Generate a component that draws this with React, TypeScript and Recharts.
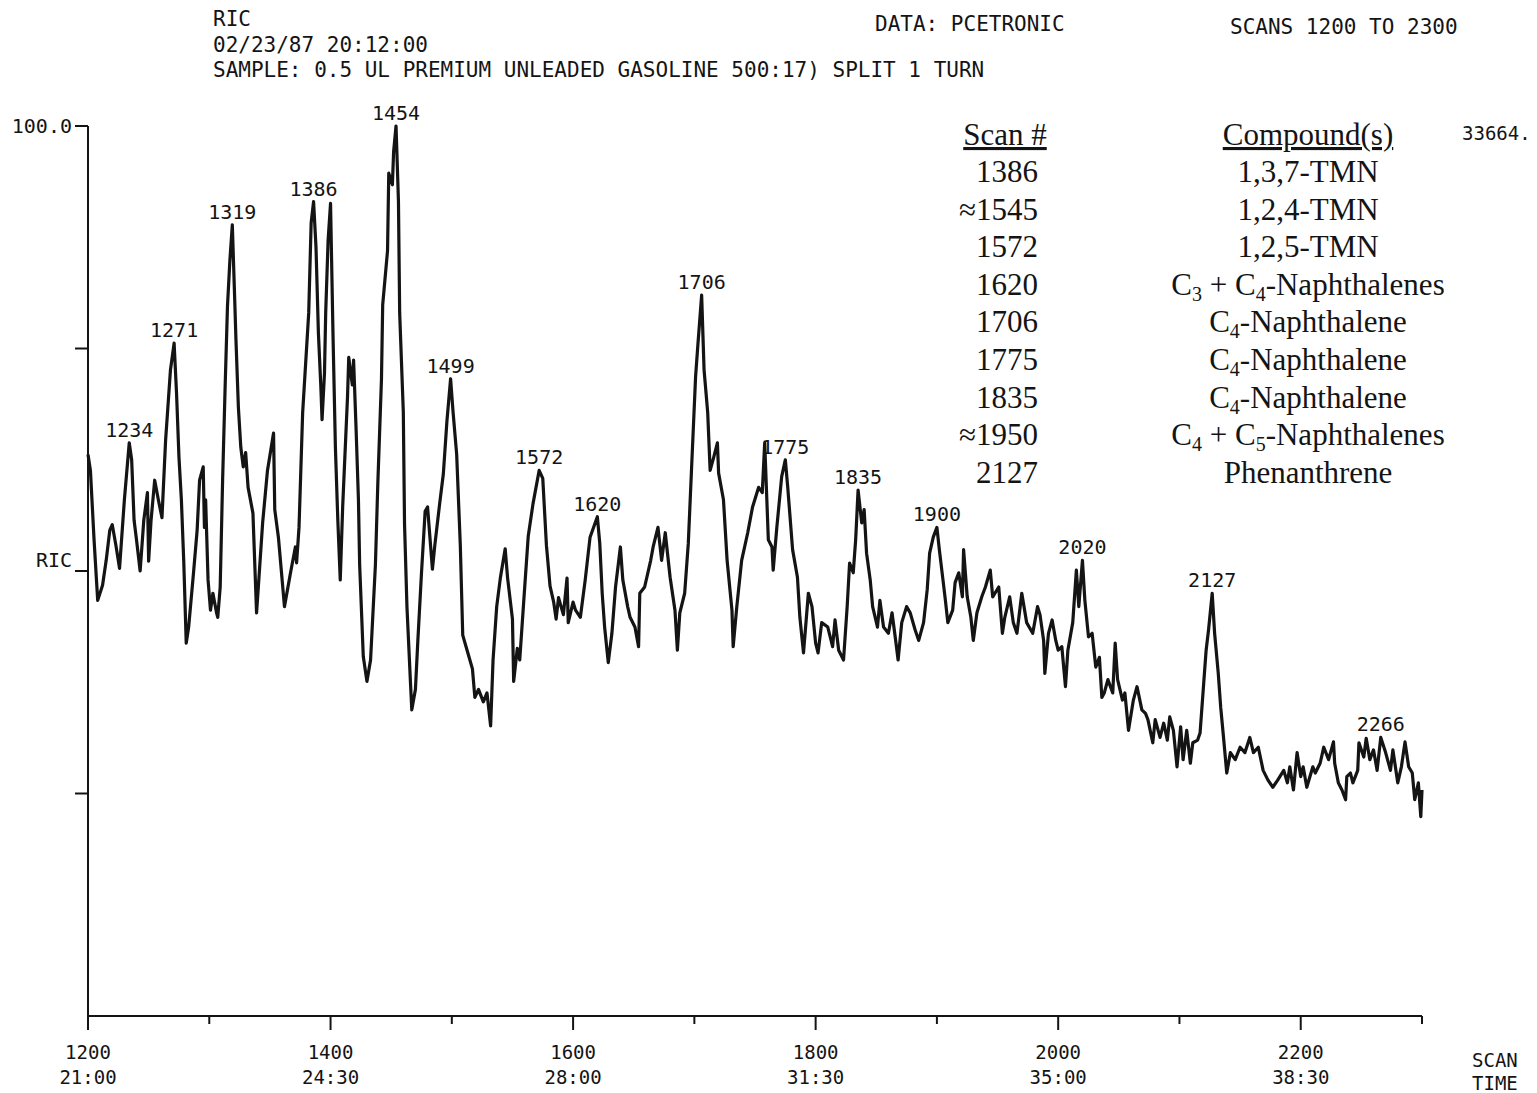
import React from "react";
import { LineChart, Line, XAxis, YAxis, LabelList } from "recharts";

// Reconstructed ion current trace, scans 1200-2300 (relative intensity, %)
const scans = [
  1200, 1202, 1205, 1208, 1212, 1215, 1218, 1220, 1223, 1226, 1230, 1234, 1236, 1238, 1240, 1243, 1246, 1249, 1250, 1252,
  1255, 1258, 1261, 1264, 1268, 1271, 1273, 1275, 1277, 1279, 1281, 1283, 1287, 1290, 1292, 1295, 1296, 1297, 1299, 1301,
  1303, 1306, 1307, 1309, 1311, 1313, 1315, 1317, 1319, 1321, 1322, 1324, 1326, 1328, 1330, 1332, 1336, 1339, 1341, 1344,
  1348, 1353, 1354, 1357, 1362, 1367, 1371, 1372, 1374, 1377, 1382, 1384, 1386, 1388, 1390, 1392, 1393, 1395, 1396, 1398,
  1400, 1402, 1404, 1406, 1408, 1410, 1414, 1415, 1418, 1419, 1421, 1423, 1424, 1427, 1430, 1433, 1437, 1439, 1442, 1443,
  1447, 1448, 1451, 1452, 1454, 1456, 1457, 1460, 1461, 1463, 1466, 1467, 1470, 1472, 1475, 1478, 1480, 1484, 1486, 1490,
  1493, 1496, 1499, 1501, 1504, 1507, 1509, 1513, 1517, 1519, 1522, 1526, 1529, 1532, 1534, 1537, 1540, 1544, 1546, 1550,
  1551, 1554, 1556, 1559, 1563, 1567, 1572, 1575, 1578, 1581, 1584, 1586, 1588, 1592, 1595, 1596, 1600, 1602, 1606, 1610,
  1614, 1620, 1622, 1624, 1626, 1629, 1632, 1635, 1639, 1641, 1645, 1647, 1651, 1654, 1655, 1659, 1664, 1666, 1670, 1673,
  1676, 1680, 1684, 1686, 1688, 1692, 1695, 1698, 1701, 1703, 1706, 1708, 1711, 1713, 1716, 1719, 1720, 1724, 1727, 1731,
  1732, 1735, 1739, 1744, 1748, 1753, 1756, 1758, 1761, 1764, 1765, 1768, 1772, 1775, 1777, 1781, 1785, 1787, 1790, 1794,
  1797, 1800, 1802, 1805, 1810, 1814, 1816, 1819, 1823, 1826, 1828, 1831, 1833, 1835, 1838, 1840, 1842, 1845, 1847, 1851,
  1853, 1856, 1860, 1863, 1866, 1868, 1871, 1875, 1878, 1882, 1885, 1889, 1892, 1894, 1897, 1900, 1902, 1905, 1907, 1909,
  1913, 1915, 1918, 1921, 1922, 1925, 1928, 1930, 1933, 1937, 1940, 1944, 1946, 1951, 1954, 1956, 1960, 1963, 1966, 1970,
  1974, 1979, 1983, 1985, 1988, 1989, 1992, 1995, 1998, 2000, 2003, 2006, 2008, 2012, 2015, 2017, 2020, 2022, 2025, 2028,
  2031, 2034, 2036, 2038, 2041, 2045, 2047, 2049, 2053, 2055, 2058, 2062, 2065, 2069, 2072, 2074, 2078, 2080, 2084, 2087,
  2090, 2092, 2095, 2098, 2101, 2103, 2106, 2109, 2111, 2115, 2117, 2120, 2122, 2124, 2127, 2129, 2132, 2134, 2136, 2139,
  2142, 2146, 2150, 2154, 2158, 2161, 2165, 2169, 2173, 2177, 2181, 2186, 2189, 2191, 2194, 2197, 2200, 2202, 2205, 2210,
  2212, 2216, 2219, 2223, 2227, 2228, 2231, 2234, 2237, 2238, 2241, 2243, 2247, 2248, 2252, 2254, 2257, 2260, 2263, 2266,
  2270, 2274, 2276, 2280, 2283, 2286, 2289, 2292, 2294, 2297, 2299, 2300,
];

const ric = [
  63.1, 61.3, 53.5, 46.7, 48.4, 51.2, 54.6, 55.2, 52.9, 50.3, 58.0, 64.4, 62.5, 55.7, 53.5, 50.0, 55.7, 58.8, 51.1, 55.7,
  60.2, 58.0, 56.0, 64.7, 72.6, 75.6, 70.0, 62.8, 58.0, 50.9, 41.9, 43.7, 49.8, 54.6, 60.2, 61.7, 54.9, 58.0, 49.0, 45.6,
  47.5, 45.3, 44.8, 48.2, 60.2, 70.3, 79.7, 84.9, 88.9, 80.4, 76.0, 68.4, 63.9, 61.7, 63.3, 59.4, 56.5, 45.3, 49.3, 55.4,
  61.3, 65.5, 56.9, 53.8, 46.0, 49.8, 52.7, 50.9, 54.9, 67.8, 79.0, 89.1, 91.5, 86.4, 76.7, 70.7, 67.0, 72.2, 79.0, 87.2,
  91.3, 76.7, 63.9, 55.7, 49.0, 57.2, 69.6, 74.0, 70.9, 73.7, 66.2, 58.0, 50.7, 40.4, 37.6, 40.0, 50.7, 59.9, 71.6, 79.9,
  86.0, 94.7, 93.4, 97.1, 100.0, 91.5, 79.0, 67.9, 55.3, 46.0, 37.2, 34.4, 36.7, 42.2, 49.8, 56.7, 57.2, 50.2, 52.9, 57.6,
  60.9, 66.9, 71.6, 67.9, 63.1, 52.9, 42.8, 40.9, 39.0, 35.8, 36.7, 35.3, 36.3, 32.6, 40.0, 46.0, 49.2, 52.5, 49.2, 44.6,
  37.6, 41.3, 40.0, 46.0, 53.9, 57.6, 61.3, 60.4, 52.9, 48.3, 46.5, 44.6, 47.0, 45.1, 49.2, 44.2, 46.5, 45.6, 44.8, 49.0,
  53.8, 56.1, 53.1, 47.5, 43.7, 39.7, 43.0, 48.2, 52.7, 49.0, 46.0, 44.8, 43.7, 41.5, 47.5, 48.2, 51.2, 52.7, 54.9, 51.2,
  54.3, 49.3, 45.6, 41.1, 45.3, 47.5, 53.1, 62.5, 71.8, 75.6, 81.0, 72.6, 67.8, 61.3, 62.8, 64.4, 61.0, 58.0, 51.2, 45.6,
  41.5, 46.0, 51.2, 54.3, 57.2, 59.4, 58.8, 64.4, 53.5, 52.7, 50.1, 54.9, 60.6, 62.5, 59.4, 52.4, 49.3, 44.8, 40.8, 47.5,
  46.0, 41.9, 40.8, 44.2, 43.7, 41.5, 44.5, 41.1, 40.0, 46.0, 50.9, 49.8, 53.5, 59.1, 55.4, 56.9, 52.0, 49.0, 46.0, 43.7,
  46.7, 43.7, 43.0, 45.3, 42.2, 40.0, 44.2, 46.0, 45.3, 43.4, 42.2, 44.2, 47.9, 52.0, 53.8, 54.9, 52.4, 49.0, 46.7, 44.2,
  45.6, 48.7, 49.8, 47.1, 52.4, 47.1, 44.8, 42.2, 45.3, 47.1, 48.2, 50.1, 47.1, 48.2, 43.0, 44.8, 47.1, 44.2, 43.0, 47.5,
  44.2, 43.0, 46.0, 45.1, 42.2, 38.5, 43.0, 44.5, 42.2, 41.1, 41.5, 37.0, 41.1, 44.2, 50.1, 46.0, 51.2, 46.7, 42.6, 43.0,
  39.2, 40.3, 35.8, 36.3, 37.8, 36.3, 41.9, 37.8, 35.5, 36.3, 32.1, 35.5, 37.0, 34.4, 34.0, 33.3, 30.7, 33.3, 31.3, 32.9,
  31.0, 33.6, 32.1, 28.0, 32.5, 28.8, 32.1, 28.4, 30.7, 31.0, 31.8, 37.4, 41.1, 43.4, 47.5, 43.0, 38.5, 34.7, 31.8, 27.3,
  29.6, 28.8, 30.2, 29.6, 31.3, 29.6, 30.2, 27.6, 26.5, 25.7, 26.5, 27.6, 26.2, 28.0, 25.4, 29.6, 26.9, 28.0, 25.7, 28.0,
  27.3, 28.4, 30.2, 28.8, 30.8, 28.4, 26.2, 25.4, 24.3, 26.9, 27.3, 26.2, 27.6, 30.7, 29.1, 31.2, 28.8, 29.9, 27.6, 31.3,
  29.6, 27.6, 29.9, 26.2, 28.0, 30.8, 28.0, 27.3, 24.3, 26.2, 22.4, 25.4,
];

// Scan numbers printed above the peaks
const peakScans = [1234, 1271, 1319, 1386, 1454, 1499, 1572, 1620, 1706, 1775, 1835, 1900, 2020, 2127, 2266];

const xTicks = [1200, 1300, 1400, 1500, 1600, 1700, 1800, 1900, 2000, 2100, 2200, 2300];
const majorScans = [1200, 1400, 1600, 1800, 2000, 2200];
const timeLabels = ["21:00", "24:30", "28:00", "31:30", "35:00", "38:30"];
const yTicks = [25, 50, 75, 100];
const yTickLabels = ["", "RIC", "", "100.0"];

const headerLines = ["RIC", "02/23/87 20:12:00", "SAMPLE: 0.5 UL PREMIUM UNLEADED GASOLINE 500:17) SPLIT 1 TURN"];
const dataLabel = "DATA: PCETRONIC";
const scanRange = "SCANS 1200 TO 2300";
const fullScale = "33664.";

const tableScans = ["1386", "≈1545", "1572", "1620", "1706", "1775", "1835", "≈1950", "2127"];
const tableCompounds = [
  "1,3,7-TMN",
  "1,2,4-TMN",
  "1,2,5-TMN",
  "C₃ + C₄-Naphthalenes",
  "C₄-Naphthalene",
  "C₄-Naphthalene",
  "C₄-Naphthalene",
  "C₄ + C₅-Naphthalenes",
  "Phenanthrene",
];

const data = scans.map((s, i) => ({ scan: s, ric: ric[i] }));

const INK = "#141414";
const MONO = "'DejaVu Sans Mono', 'Liberation Mono', monospace";
const SERIF = "'Liberation Serif', 'DejaVu Serif', serif";

const ScanTick = (props: any) => {
  const { x, y, payload } = props;
  const v = payload.value;
  const i = majorScans.indexOf(v);
  return (
    <g>
      <line x1={x} y1={y} x2={x} y2={y + (i >= 0 ? 14 : 8)} stroke={INK} strokeWidth={2} />
      {i >= 0 && (
        <text x={x} y={y + 43} textAnchor="middle" fontFamily={MONO} fontSize={19} fill={INK}>
          {v}
        </text>
      )}
      {i >= 0 && (
        <text x={x} y={y + 68} textAnchor="middle" fontFamily={MONO} fontSize={19} fill={INK}>
          {timeLabels[i]}
        </text>
      )}
    </g>
  );
};

const RicTick = (props: any) => {
  const { x, y, payload } = props;
  const label = yTickLabels[yTicks.indexOf(payload.value)];
  const isTop = payload.value === 100;
  return (
    <g>
      <line x1={x - 13} y1={y} x2={x} y2={y} stroke={INK} strokeWidth={2} />
      {label && (
        <text
          x={x - 16}
          y={isTop ? y + 7 : y - 4}
          textAnchor="end"
          fontFamily={MONO}
          fontSize={20}
          fill={INK}
        >
          {label}
        </text>
      )}
    </g>
  );
};

const PeakLabel = (props: any) => {
  const vb = props.viewBox || {};
  const px = props.x ?? vb.x;
  const py = props.y ?? vb.y;
  if (!peakScans.includes(Number(props.value))) return null;
  return (
    <text x={px} y={py - 6} textAnchor="middle" fontFamily={MONO} fontSize={20} fill={INK}>
      {props.value}
    </text>
  );
};

const SUB = "₀₁₂₃₄₅₆₇₈₉";

// split "C₄-Naphthalene" style names into normal and lowered subscript pieces
function chem(name: string) {
  let lowered = false;
  return name
    .split(/([₀-₉])/)
    .filter((p) => p !== "")
    .map((p, i) => {
      const k = SUB.indexOf(p);
      if (k >= 0) {
        lowered = true;
        return (
          <tspan key={i} fontSize={20} dy={6}>
            {k}
          </tspan>
        );
      }
      const dy = lowered ? -6 : 0;
      lowered = false;
      return (
        <tspan key={i} dy={dy}>
          {p}
        </tspan>
      );
    });
}

export default function App() {
  return (
    <div style={{ position: "absolute", left: 0, top: 0, width: 1537, height: 1093, background: "#fff" }}>
      <LineChart width={1537} height={1093} data={data} margin={{ top: 126, right: 115, bottom: 0, left: 28 }}>
        <XAxis
          dataKey="scan"
          type="number"
          domain={[1200, 2300]}
          ticks={xTicks}
          interval={0}
          height={77}
          tickSize={0}
          tickMargin={0}
          tickLine={false}
          axisLine={{ stroke: INK, strokeWidth: 2 }}
          tick={(p: any) => <ScanTick {...p} />}
        />
        <YAxis
          type="number"
          domain={[0, 100]}
          ticks={yTicks}
          interval={0}
          width={60}
          tickSize={0}
          tickMargin={0}
          tickLine={false}
          axisLine={{ stroke: INK, strokeWidth: 2 }}
          tick={(p: any) => <RicTick {...p} />}
        />
        <Line
          type="linear"
          dataKey="ric"
          stroke={INK}
          strokeWidth={3.2}
          strokeLinejoin="round"
          dot={false}
          isAnimationActive={false}
        >
          <LabelList dataKey="scan" content={PeakLabel} />
        </Line>
      </LineChart>

      <svg
        width={1537}
        height={1093}
        style={{ position: "absolute", left: 0, top: 0, pointerEvents: "none" }}
      >
        {headerLines.map((t, i) => (
          <text key={t} x={213} y={26 + i * 25.5} fontFamily={MONO} fontSize={21} fill={INK}>
            {t}
          </text>
        ))}
        <text x={875} y={31} fontFamily={MONO} fontSize={21} fill={INK}>
          {dataLabel}
        </text>
        <text x={1230} y={34} fontFamily={MONO} fontSize={21} fill={INK}>
          {scanRange}
        </text>
        <text x={1462} y={140} fontFamily={MONO} fontSize={19} fill={INK}>
          {fullScale}
        </text>
        <text x={1472} y={1067} fontFamily={MONO} fontSize={19} fill={INK}>
          SCAN
        </text>
        <text x={1472} y={1090} fontFamily={MONO} fontSize={19} fill={INK}>
          TIME
        </text>

        <text
          x={1005}
          y={145}
          textAnchor="middle"
          fontFamily={SERIF}
          fontSize={31}
          fill={INK}
          style={{ textDecoration: "underline" }}
        >
          Scan #
        </text>
        <text
          x={1308}
          y={145}
          textAnchor="middle"
          fontFamily={SERIF}
          fontSize={31}
          fill={INK}
          style={{ textDecoration: "underline" }}
        >
          Compound(s)
        </text>
        {tableScans.map((s, i) => (
          <text key={"s" + i} x={1038} y={182 + i * 37.6} textAnchor="end" fontFamily={SERIF} fontSize={31} fill={INK}>
            {s}
          </text>
        ))}
        {tableCompounds.map((c, i) => (
          <text key={"c" + i} x={1308} y={182 + i * 37.6} textAnchor="middle" fontFamily={SERIF} fontSize={31} fill={INK}>
            {chem(c)}
          </text>
        ))}
      </svg>
    </div>
  );
}
